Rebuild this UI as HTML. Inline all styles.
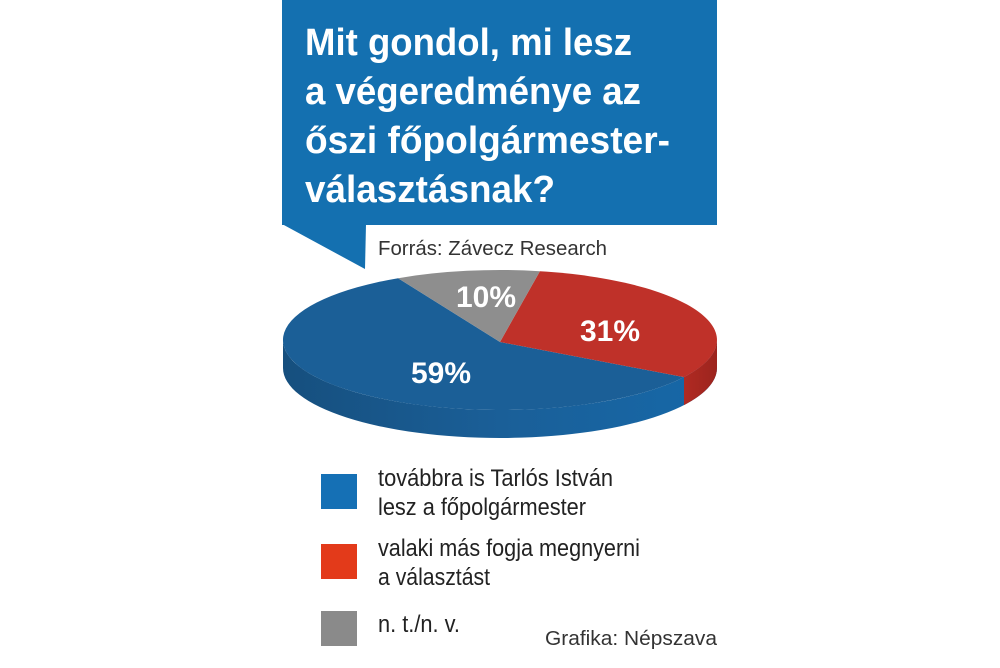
<!DOCTYPE html>
<html><head><meta charset="utf-8"><style>
html,body{margin:0;padding:0;background:#fff;}
svg{display:block;}
</style></head><body>
<svg width="1000" height="668" viewBox="0 0 1000 668" xmlns="http://www.w3.org/2000/svg">
<defs>
<linearGradient id="sideb" x1="0" x2="1" y1="0" y2="0">
<stop offset="0" stop-color="#164f7e"/><stop offset="0.5" stop-color="#1a5f98"/><stop offset="1" stop-color="#1668a8"/>
</linearGradient>
<linearGradient id="sider" x1="0" x2="1"><stop offset="0" stop-color="#b02a22"/><stop offset="1" stop-color="#9c241e"/></linearGradient>
</defs>
<rect x="282" y="0" width="435" height="225" fill="#1470b0"/>
<polygon points="282,224 366,224 365,269" fill="#1470b0"/>
<g font-family="'Liberation Sans',sans-serif" font-weight="bold" font-size="38" fill="#fff">
<text x="305" y="55" textLength="327" lengthAdjust="spacingAndGlyphs">Mit gondol, mi lesz</text>
<text x="305" y="104" textLength="336" lengthAdjust="spacingAndGlyphs">a végeredménye az</text>
<text x="305" y="153" textLength="365" lengthAdjust="spacingAndGlyphs">őszi főpolgármester-</text>
<text x="305" y="202" textLength="250" lengthAdjust="spacingAndGlyphs">választásnak?</text>
</g>
<text x="378" y="255" font-family="'Liberation Sans',sans-serif" font-size="20" fill="#333" textLength="229" lengthAdjust="spacingAndGlyphs">Forrás: Závecz Research</text>
<path d="M283,340 A217,70 0 0 0 717,340 L717,368 A217,70 0 0 1 283,368 Z" fill="url(#sideb)"/>
<path d="M684,377.1 A217,70 0 0 0 717,340 L717,368 A217,70 0 0 1 684,405.1 Z" fill="url(#sider)"/>
<path d="M500,342 L398.1,278.2 A217,70 0 1 0 684,377.1 Z" fill="#1b5f97"/>
<path d="M500,342 L539.9,271.2 A217,70 0 0 1 684,377.1 Z" fill="#bf3129"/>
<path d="M500,342 L398.1,278.2 A217,70 0 0 1 539.9,271.2 Z" fill="#8e8e8e"/>
<g font-family="'Liberation Sans',sans-serif" font-weight="bold" font-size="30" fill="#fff" text-anchor="middle">
<text x="486" y="307">10%</text>
<text x="610" y="341">31%</text>
<text x="441" y="383">59%</text>
</g>
<rect x="321" y="474" width="36" height="35" fill="#1570b5"/>
<rect x="321" y="544" width="36" height="35" fill="#e33a1a"/>
<rect x="321" y="611" width="36" height="35" fill="#8a8a8a"/>
<g font-family="'Liberation Sans Narrow','Liberation Sans',sans-serif" font-size="24" fill="#222">
<text x="378" y="486" textLength="235" lengthAdjust="spacingAndGlyphs">továbbra is Tarlós István</text>
<text x="378" y="515" textLength="208" lengthAdjust="spacingAndGlyphs">lesz a főpolgármester</text>
<text x="378" y="556" textLength="262" lengthAdjust="spacingAndGlyphs">valaki más fogja megnyerni</text>
<text x="378" y="585" textLength="112" lengthAdjust="spacingAndGlyphs">a választást</text>
<text x="378" y="632" textLength="82" lengthAdjust="spacingAndGlyphs">n. t./n. v.</text>
</g>
<text x="545" y="645" font-family="'Liberation Sans',sans-serif" font-size="20" fill="#333" textLength="172" lengthAdjust="spacingAndGlyphs">Grafika: Népszava</text>
</svg>
</body></html>
